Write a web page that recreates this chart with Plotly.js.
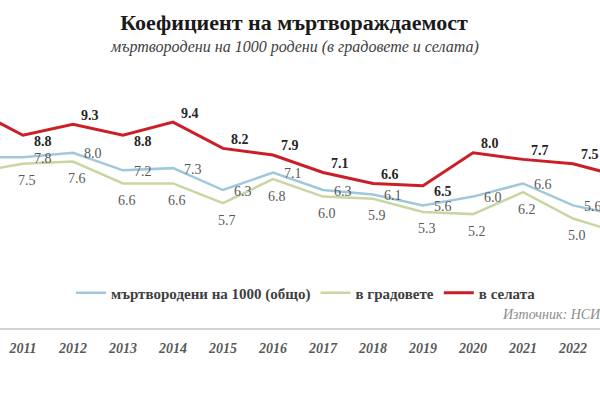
<!DOCTYPE html>
<html>
<head>
<meta charset="utf-8">
<script src="https://cdn.plot.ly/plotly-3.0.1.min.js"></script>
<style>html,body{margin:0;padding:0;background:#fff;}#chart{width:600px;height:400px;}</style>
</head>
<body>
<div id="chart"></div>
<script>
// Data (2010 and 2023 are only partly visible at the edges)
const years = [2010, 2011, 2012, 2013, 2014, 2015, 2016, 2017, 2018, 2019, 2020, 2021, 2022, 2023];
const totalRate = [7.8, 7.8, 8.0, 7.2, 7.3, 6.3, 7.1, 6.3, 6.1, 5.6, 6.0, 6.6, 5.6, 5.1];
const cityRate  = [7.1, 7.5, 7.6, 6.6, 6.6, 5.7, 6.8, 6.0, 5.9, 5.3, 5.2, 6.2, 5.0, 4.3];
const villageRate = [10.0, 8.8, 9.3, 8.8, 9.4, 8.2, 7.9, 7.1, 6.6, 6.5, 8.0, 7.7, 7.5, 6.9];
const tickLabels = years.map(String);

const seriesNames = ['мъртвородени на 1000 (общо)', 'в градовете', 'в селата'];
const titleText = 'Коефициент на мъртвораждаемост';
const subtitleText = 'мъртвородени на 1000 родени (в градовете и селата)';
const sourceText = 'Източник: НСИ';

const colors = {total: '#9fc9da', city: '#c8d7a2', village: '#cc1e26'};
const serif = 'Liberation Serif, Times New Roman, serif';

const xRange = [2010.54, 2022.54];
const yRange = [0, 268 / 21.9];

const traces = [
  {x: years, y: totalRate, name: seriesNames[0], type: 'scatter', mode: 'lines',
   line: {color: colors.total, width: 2.5}},
  {x: years, y: cityRate, name: seriesNames[1], type: 'scatter', mode: 'lines',
   line: {color: colors.city, width: 2.5}},
  {x: years, y: villageRate, name: seriesNames[2], type: 'scatter', mode: 'lines',
   line: {color: colors.village, width: 3}}
];

const annotations = [];
function inView(i) { return years[i] >= xRange[0] && years[i] <= xRange[1]; }

// total: labels to the right of the point
totalRate.forEach((v, i) => {
  if (!inView(i)) return;
  annotations.push({x: years[i], y: v, xref: 'x', yref: 'y', text: v.toFixed(1), showarrow: false,
    xshift: 20, yshift: -1, font: {family: serif, size: 14, color: '#595959'}});
});
// cities: labels below
cityRate.forEach((v, i) => {
  if (!inView(i)) return;
  annotations.push({x: years[i], y: v, xref: 'x', yref: 'y', text: v.toFixed(1), showarrow: false,
    xshift: 4, yshift: -17, font: {family: serif, size: 14, color: '#595959'}});
});
// villages: bold labels, above-right, or right/below at local minima
villageRate.forEach((v, i) => {
  if (!inView(i)) return;
  const prev = villageRate[i - 1], next = villageRate[i + 1];
  const localMin = prev !== undefined && next !== undefined && v < prev && v < next;
  annotations.push({x: years[i], y: v, xref: 'x', yref: 'y', text: v.toFixed(1), showarrow: false,
    xshift: localMin ? 20 : 17, yshift: localMin ? -6 : 9,
    font: {family: serif, size: 14, color: '#262626', weight: 'bold'}});
});

annotations.push({xref: 'paper', yref: 'paper', x: 0.49, y: 1 + (60 - 47) / 268, xanchor: 'center', yanchor: 'middle',
  text: subtitleText, showarrow: false,
  font: {family: serif, size: 16, color: '#404040', style: 'italic'}});
annotations.push({xref: 'paper', yref: 'paper', x: 1.005, y: (328 - 314) / 268, xanchor: 'right', yanchor: 'middle',
  text: sourceText, showarrow: false,
  font: {family: serif, size: 14, color: '#8c8c8c', style: 'italic'}});

const layout = {
  width: 600, height: 400,
  margin: {l: 0, r: 0, t: 60, b: 72, pad: 0},
  paper_bgcolor: '#ffffff', plot_bgcolor: '#ffffff',
  title: {text: '<b>' + titleText + '</b>', x: 0.49, xanchor: 'center', y: 1 - 22 / 400, yanchor: 'middle', yref: 'container',
    font: {family: serif, size: 22, color: '#1a1a1a'}},
  xaxis: {range: xRange, showgrid: false, zeroline: false, showline: true, linecolor: '#d4d4d4', linewidth: 2,
    tickvals: years, ticktext: tickLabels, ticks: '', ticklabelstandoff: 6,
    tickfont: {family: serif, size: 14, color: '#595959', style: 'italic', weight: 'bold'}},
  yaxis: {range: yRange, visible: false, showgrid: false, zeroline: false},
  showlegend: true,
  legend: {orientation: 'h', x: 0.51, xanchor: 'center', y: (328 - 293) / 268, yanchor: 'middle',
    font: {family: serif, size: 15, color: '#404040', weight: 'bold'}, itemwidth: 30, tracegroupgap: 0, bgcolor: 'rgba(0,0,0,0)'},
  annotations: annotations
};

Plotly.newPlot('chart', traces, layout, {displayModeBar: false, staticPlot: true});
</script>
</body>
</html>
